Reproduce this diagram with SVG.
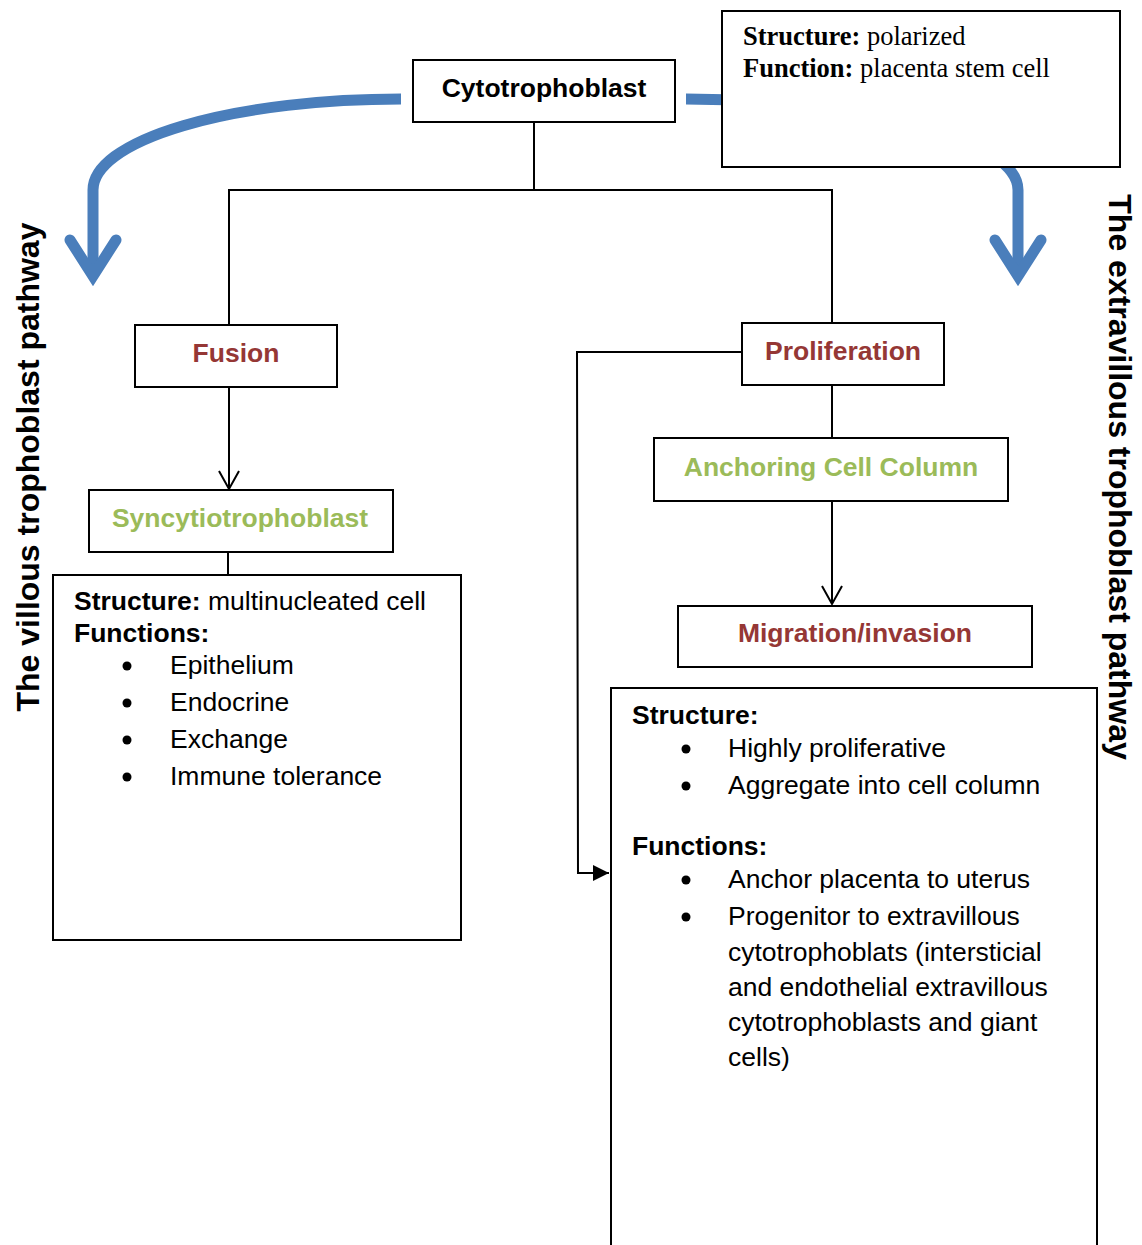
<svg xmlns="http://www.w3.org/2000/svg" width="1142" height="1245" viewBox="0 0 1142 1245">
<defs>
<style>
.box{fill:#fff;stroke:#000;stroke-width:2}
.ln{fill:none;stroke:#000;stroke-width:2}
.blue{fill:none;stroke:#4a7ebb;stroke-width:11}
.head{fill:none;stroke:#4a7ebb;stroke-width:11;stroke-linecap:round;stroke-linejoin:miter;stroke-miterlimit:10}
text{font-family:"Liberation Sans",Arial,sans-serif;font-size:26.5px;fill:#000}
.b{font-weight:bold}
.red{font-weight:bold;fill:#953735}
.green{font-weight:bold;fill:#9bbb59}
.serif{font-family:"Liberation Serif","Times New Roman",serif}
.side{font-weight:bold;font-size:32px}
</style>
<marker id="openArrow" markerUnits="userSpaceOnUse" orient="auto" overflow="visible" markerWidth="20" markerHeight="20" refX="0" refY="0">
<path d="M-18,-10 L0,0 L-18,10" fill="none" stroke="#000" stroke-width="2"/>
</marker>
<marker id="fillArrow" markerUnits="userSpaceOnUse" orient="auto" overflow="visible" markerWidth="20" markerHeight="20" refX="0" refY="0">
<path d="M-16,-8 L0,0 L-16,8 Z" fill="#000"/>
</marker>
</defs>
<rect width="1142" height="1245" fill="#fff"/>

<g id="pathway-arrows">
<path class="blue" d="M401,99 A308,91 0 0 0 93,190 V272"/>
<polyline class="head" points="70,240 93,276 116,240"/>
<path class="blue" d="M686,99 A332,91 0 0 1 1018,190 V272"/>
<polyline class="head" points="995,240 1018,276 1041,240"/>
</g>

<g id="connectors">
<polyline class="ln" points="534,122 534,190"/>
<polyline class="ln" points="229,325 229,190 832,190 832,323"/>
<line class="ln" x1="229" y1="387" x2="229" y2="489" marker-end="url(#openArrow)"/>
<line class="ln" x1="228" y1="552" x2="228" y2="575"/>
<line class="ln" x1="832" y1="385" x2="832" y2="438"/>
<line class="ln" x1="832" y1="501" x2="832" y2="604" marker-end="url(#openArrow)"/>
<polyline class="ln" points="742,352 577,352 578,873 609,873" marker-end="url(#fillArrow)"/>
</g>

<g id="cytotrophoblast">
<rect class="box" x="413" y="60" width="262" height="62"/>
<text class="b" x="544" y="97" text-anchor="middle">Cytotrophoblast</text>
</g>

<g id="stem-info">
<rect class="box" x="722" y="11" width="398" height="156"/>
<text class="serif" x="743" y="45"><tspan font-weight="bold">Structure:</tspan> polarized</text>
<text class="serif" x="743" y="77"><tspan font-weight="bold">Function:</tspan> placenta stem cell</text>
</g>

<g id="fusion">
<rect class="box" x="135" y="325" width="202" height="62"/>
<text class="red" x="236" y="362" text-anchor="middle">Fusion</text>
</g>

<g id="syncytiotrophoblast">
<rect class="box" x="89" y="490" width="304" height="62"/>
<text class="green" x="240" y="527" text-anchor="middle">Syncytiotrophoblast</text>
</g>

<g id="villous-info">
<rect class="box" x="53" y="575" width="408" height="365"/>
<text x="74" y="610"><tspan font-weight="bold">Structure:</tspan> multinucleated cell</text>
<text class="b" x="74" y="642">Functions:</text>
<circle cx="127" cy="666" r="4.5"/><text x="170" y="674">Epithelium</text>
<circle cx="127" cy="703" r="4.5"/><text x="170" y="711">Endocrine</text>
<circle cx="127" cy="740" r="4.5"/><text x="170" y="748">Exchange</text>
<circle cx="127" cy="777" r="4.5"/><text x="170" y="785">Immune tolerance</text>
</g>

<g id="proliferation">
<rect class="box" x="742" y="323" width="202" height="62"/>
<text class="red" x="843" y="360" text-anchor="middle">Proliferation</text>
</g>

<g id="anchoring">
<rect class="box" x="654" y="438" width="354" height="63"/>
<text class="green" x="831" y="476" text-anchor="middle">Anchoring Cell Column</text>
</g>

<g id="migration">
<rect class="box" x="678" y="606" width="354" height="61"/>
<text class="red" x="855" y="642" text-anchor="middle">Migration/invasion</text>
</g>

<g id="extravillous-info">
<rect class="box" x="611" y="688" width="486" height="580"/>
<text class="b" x="632" y="724">Structure:</text>
<circle cx="686" cy="749" r="4.5"/><text x="728" y="757">Highly proliferative</text>
<circle cx="686" cy="786" r="4.5"/><text x="728" y="794">Aggregate into cell column</text>
<text class="b" x="632" y="855">Functions:</text>
<circle cx="686" cy="880" r="4.5"/><text x="728" y="888">Anchor placenta to uterus</text>
<circle cx="686" cy="917" r="4.5"/><text x="728" y="925">Progenitor to extravillous</text>
<text x="728" y="961">cytotrophoblats (intersticial</text>
<text x="728" y="996">and endothelial extravillous</text>
<text x="728" y="1031">cytotrophoblasts and giant</text>
<text x="728" y="1066">cells)</text>
</g>

<g id="side-labels">
<text class="side" transform="translate(39,467) rotate(-90)" text-anchor="middle">The villous trophoblast pathway</text>
<text class="side" transform="translate(1109,477) rotate(90)" text-anchor="middle">The extravillous trophoblast pathway</text>
</g>
</svg>
